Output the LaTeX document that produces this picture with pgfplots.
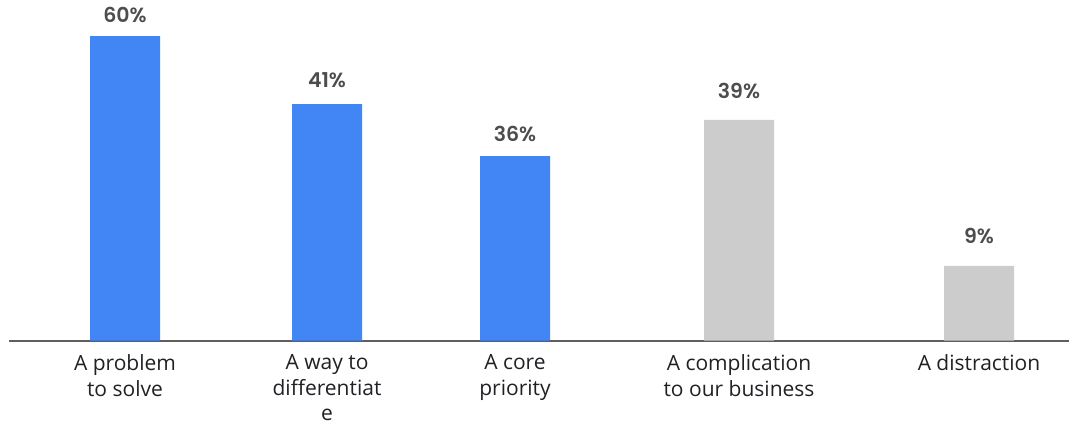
\documentclass[border=0pt]{standalone}
\usepackage{pgfplots}
\pgfplotsset{compat=1.18}
\usepackage{fontspec}
\setmainfont{Open Sans}
\newfontfamily\labfont{Poppins}[BoldFont={Poppins SemiBold}]
\definecolor{gblue}{HTML}{4285F4}
\definecolor{ggray}{HTML}{CCCCCC}
\definecolor{axisgray}{HTML}{5F5F5F}
\definecolor{labgray}{HTML}{4D4D4D}
\definecolor{tickblack}{HTML}{202124}
\begin{document}
\begin{tikzpicture}[x=1pt,y=1pt]
\begin{axis}[
  at={(9pt,85.3pt)}, anchor=south west,
  scale only axis, width=1060pt, height=340.7pt,
  xmin=9, xmax=1069, ymin=0, ymax=67.09,
  clip=false,
  axis x line*=bottom, hide y axis,
  x axis line style={draw=axisgray, line width=2pt, -},
  xtick={125,327,515,739,979},
  xticklabels={{A problem\\to solve},{A way to\\differentiat\\e},{A core\\priority},{A complication\\to our business},{A distraction}},
  major tick length=0pt,
  xticklabel style={anchor=north, inner sep=0pt, yshift=-14pt, align=center, text=tickblack, font=\fontsize{21}{25.5}\selectfont},
]
\addplot[ybar, bar width=70pt, bar shift=0pt, fill=gblue, draw=none] coordinates {(125,60) (327,46.6) (515,36.37)};
\addplot[ybar, bar width=70pt, bar shift=0pt, fill=ggray, draw=none] coordinates {(739,43.46) (979,14.71)};
\addplot[draw=none, mark=none, point meta=explicit symbolic,
  nodes near coords={\pgfplotspointmeta\%},
  every node near coord/.style={anchor=center, inner sep=0pt, text=labgray, font=\labfont\bfseries\fontsize{20.5}{24}\selectfont}]
  table[meta=lab] {
x y lab
125 64.14 60
327 51.34 41
515 40.61 36
739 49.13 39
979 20.58 9
};
\end{axis}
\pgfresetboundingbox
\path (0,0) rectangle (1069,426);
\end{tikzpicture}
\end{document}
